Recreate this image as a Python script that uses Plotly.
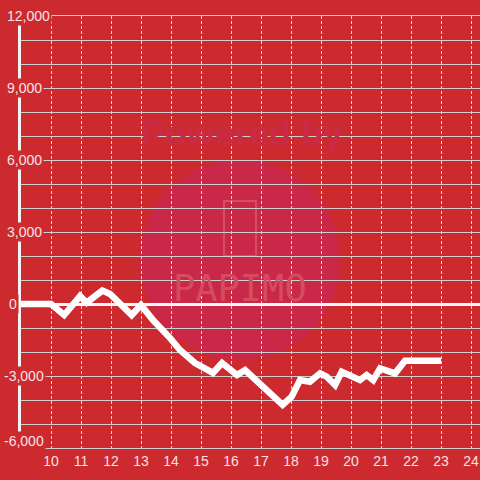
import plotly.graph_objects as go

# data
x_vals = [9.0, 10.0, 10.44, 10.97, 11.19, 11.71, 11.97, 12.69, 13.0, 13.4, 13.97, 14.3,
          14.8, 15.4, 15.7, 16.2, 16.47, 17.07, 17.3, 17.72, 18.02, 18.3, 18.63, 18.97,
          19.19, 19.47, 19.69, 19.97, 20.3, 20.52, 20.74, 20.97, 21.24, 21.47, 21.8, 23.0]
y_vals = [0, 0, -460, 330, 55, 560, 420, -460, -40, -670, -1420, -1920,
          -2460, -2870, -2460, -2960, -2750, -3460, -3790, -4200, -3860, -3170, -3240, -2890,
          -3030, -3375, -2820, -2960, -3170, -2960, -3170, -2680, -2780, -2890, -2360, -2360]

x_ticks = list(range(10, 25))
y_label_vals = [12000, 9000, 6000, 3000, 0, -3000, -6000]
y_label_text = ["12,000", "9,000", "6,000", "3,000", "0", "-3,000", "-6,000"]

BG = "#cd2a2f"
TXT = "#f6e2e2"

fig = go.Figure()
fig.add_trace(go.Scatter(x=x_vals, y=y_vals, mode="lines",
                         line=dict(color="white", width=6.5), hoverinfo="skip"))

annotations = []
for v, t in zip(y_label_vals, y_label_text):
    annotations.append(dict(x=0, xref="paper", y=v, yref="y", text=t, showarrow=False,
                            xanchor="left", yanchor="middle",
                            xshift=-19 if v < 0 else (-14 if v == 0 else -16),
                            yshift=7 if v == -6000 else 0,
                            bgcolor=BG, borderpad=1,
                            font=dict(family="Liberation Sans, Arial", size=14, color=TXT)))

# watermark
annotations.append(dict(x=(242 - 21) / 459, y=(448 - 133) / 432, xref="paper", yref="paper",
                        text="<b>Powered by</b>", showarrow=False, yanchor="middle",
                        font=dict(family="Liberation Sans, Arial", size=36, color="#c92a45")))
annotations.append(dict(x=(240 - 21) / 459, y=(448 - 288) / 432, xref="paper", yref="paper",
                        text="PAPIMO", showarrow=False, yanchor="middle",
                        font=dict(family="DejaVu Sans Mono", size=37, color="#d44d5e")))

shapes = [
    dict(type="circle", xref="paper", yref="paper", layer="below",
         x0=(140 - 21) / 459, x1=(340 - 21) / 459, y0=(448 - 360) / 432, y1=(448 - 160) / 432,
         fillcolor="#c92848", line=dict(width=0)),
    dict(type="rect", xref="paper", yref="paper", layer="below",
         x0=(224 - 21) / 459, x1=(256 - 21) / 459, y0=(448 - 256) / 432, y1=(448 - 201) / 432,
         line=dict(color="#d5505f", width=2)),
]

fig.update_layout(
    width=480, height=480,
    margin=dict(l=21, r=0, t=16, b=32, autoexpand=False),
    paper_bgcolor=BG, plot_bgcolor=BG,
    showlegend=False,
    annotations=annotations, shapes=shapes,
    xaxis=dict(range=[9, 24.3], tickvals=x_ticks, showgrid=True, automargin=False,
               gridcolor="#dcdcdc", gridwidth=1, griddash="3px,2px",
               showline=True, mirror=True, linecolor="#cfcfcf", linewidth=1,
               zeroline=False, ticks="", ticklen=0,
               tickfont=dict(family="Liberation Sans, Arial", size=14, color=TXT)),
    yaxis=dict(range=[-6000, 12000], dtick=1000, showgrid=True, automargin=False,
               gridcolor="#cfcfcf", gridwidth=1,
               showticklabels=False, ticks="",
               showline=True, linecolor="#f4f4f4", linewidth=3,
               zeroline=True, zerolinecolor="#f8f8f8", zerolinewidth=3),
)

fig.write_html("out.html", config={"displayModeBar": False},
               post_script="document.body.style.margin='0';document.body.style.overflow='hidden';")
